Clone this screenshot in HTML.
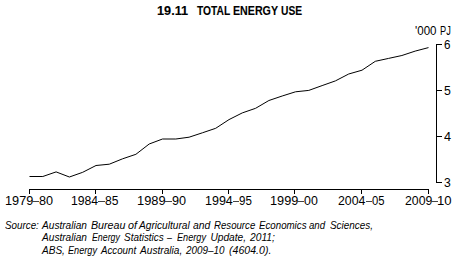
<!DOCTYPE html>
<html><head><meta charset="utf-8"><style>
html,body{margin:0;padding:0;background:#fff;width:467px;height:266px;overflow:hidden;position:relative;font-family:"Liberation Sans",sans-serif;color:#000}
.t{position:absolute;white-space:nowrap;line-height:1}
svg{position:absolute;left:0;top:0}
</style></head><body>
<svg width="467" height="266" viewBox="0 0 467 266">
<g stroke="#000" stroke-width="1" fill="none" shape-rendering="crispEdges">
<path d="M436.5 44v139M436 44.5h6M436 90.5h6M436 136.5h6M436 182.5h6"/>
<path d="M29.5 194v-4.5h399v4.5M95.5 190v4M162.5 190v4M228.5 190v4M294.5 190v4M361.5 190v4"/>
</g>
<polyline points="29.50,176.5 42.80,176.5 56.10,171.9 69.40,177 82.70,172.3 96.00,165.5 109.30,164.2 122.60,158.8 135.90,154.3 149.20,144 162.50,139 175.80,139 189.10,137.2 202.40,132.8 215.70,128.3 229.00,119.6 242.30,112.9 255.60,108.3 268.90,100.5 282.20,96 295.50,91.8 308.80,90.4 322.10,85.6 335.40,80.9 348.70,74 362.00,70.2 375.30,61.3 388.60,58.4 401.90,55.5 415.20,51.1 428.50,47.6" fill="none" stroke="#000" stroke-width="1" stroke-linejoin="round"/>
</svg>
<div class="t" style="left:156.60px;top:4.90px;font-weight:bold;font-size:12.6px;-webkit-text-stroke:0.1px #000;transform:scaleX(1.0097);transform-origin:0 0;">19.11</div>
<div class="t" style="left:196.80px;top:4.90px;font-weight:bold;font-size:12.6px;-webkit-text-stroke:0.1px #000;transform:scaleX(0.8122);transform-origin:0 0;">TOTAL</div>
<div class="t" style="left:232.65px;top:4.90px;font-weight:bold;font-size:12.6px;-webkit-text-stroke:0.1px #000;transform:scaleX(0.8462);transform-origin:0 0;">ENERGY</div>
<div class="t" style="left:280.70px;top:4.90px;font-weight:bold;font-size:12.6px;-webkit-text-stroke:0.1px #000;transform:scaleX(0.8154);transform-origin:0 0;">USE</div>
<div class="t" style="left:414.90px;top:24.90px;font-size:12px;transform:scaleX(0.9636);transform-origin:0 0;">'000</div>
<div class="t" style="left:440.03px;top:24.90px;font-size:12px;transform:scaleX(0.7692);transform-origin:0 0;">PJ</div>
<div class="t" style="left:443.80px;top:39.10px;font-size:12.5px;transform:scaleX(0.9286);transform-origin:0 0;">6</div>
<div class="t" style="left:443.50px;top:84.80px;font-size:12.5px;transform:scaleX(0.9857);transform-origin:0 0;">5</div>
<div class="t" style="left:443.50px;top:130.80px;font-size:12.5px;transform:scaleX(1.0143);transform-origin:0 0;">4</div>
<div class="t" style="left:443.50px;top:177.30px;font-size:12.5px;transform:scaleX(0.9714);transform-origin:0 0;">3</div>
<div class="t" style="left:4.74px;top:194.90px;font-size:12px;transform:scaleX(1.0600);transform-origin:0 0">1979</div>
<div class="t" style="left:38.60px;top:194.90px;font-size:12px;transform:scaleX(1.0538);transform-origin:0 0">80</div>
<div style="position:absolute;left:32.00px;top:201px;width:6.90px;height:1px;background:#444"></div>
<div class="t" style="left:71.18px;top:194.90px;font-size:12px;transform:scaleX(1.0154);transform-origin:0 0">1984</div>
<div class="t" style="left:104.90px;top:194.90px;font-size:12px;transform:scaleX(1.0077);transform-origin:0 0">85</div>
<div style="position:absolute;left:98.30px;top:201px;width:6.90px;height:1px;background:#444"></div>
<div class="t" style="left:137.13px;top:194.90px;font-size:12px;transform:scaleX(1.0720);transform-origin:0 0">1989</div>
<div class="t" style="left:171.60px;top:194.90px;font-size:12px;transform:scaleX(1.0538);transform-origin:0 0">90</div>
<div style="position:absolute;left:164.70px;top:201px;width:7.20px;height:1px;background:#444"></div>
<div class="t" style="left:204.66px;top:194.90px;font-size:12px;transform:scaleX(1.0423);transform-origin:0 0">1994</div>
<div class="t" style="left:239.10px;top:194.90px;font-size:12px;transform:scaleX(0.9615);transform-origin:0 0">95</div>
<div style="position:absolute;left:232.50px;top:201px;width:6.90px;height:1px;background:#444"></div>
<div class="t" style="left:270.04px;top:194.90px;font-size:12px;transform:scaleX(1.0600);transform-origin:0 0">1999</div>
<div class="t" style="left:303.90px;top:194.90px;font-size:12px;transform:scaleX(1.0308);transform-origin:0 0">00</div>
<div style="position:absolute;left:297.30px;top:201px;width:6.90px;height:1px;background:#444"></div>
<div class="t" style="left:338.10px;top:194.90px;font-size:12px;transform:scaleX(1.0259);transform-origin:0 0">2004</div>
<div class="t" style="left:372.10px;top:194.90px;font-size:12px;transform:scaleX(0.9385);transform-origin:0 0">05</div>
<div style="position:absolute;left:365.50px;top:201px;width:6.90px;height:1px;background:#444"></div>
<div class="t" style="left:405.00px;top:194.90px;font-size:12px;transform:scaleX(1.0231);transform-origin:0 0">2009</div>
<div class="t" style="left:436.81px;top:194.90px;font-size:12px;transform:scaleX(1.0917);transform-origin:0 0">10</div>
<div style="position:absolute;left:431.30px;top:201px;width:6.90px;height:1px;background:#444"></div>
<div class="t" style="left:4.90px;top:220.90px;font-size:10.2px;font-style:italic;transform:scaleX(0.9629);transform-origin:0 0">Source:</div>
<div class="t" style="left:41.90px;top:220.90px;font-size:10.2px;font-style:italic;transform:scaleX(0.9933);transform-origin:0 0">Australian</div>
<div class="t" style="left:91.00px;top:220.90px;font-size:10.2px;font-style:italic;transform:scaleX(1.0485);transform-origin:0 0">Bureau</div>
<div class="t" style="left:127.50px;top:220.90px;font-size:10.2px;font-style:italic;transform:scaleX(1.0556);transform-origin:0 0">of</div>
<div class="t" style="left:139.20px;top:220.90px;font-size:10.2px;font-style:italic;transform:scaleX(0.9961);transform-origin:0 0">Agricultural</div>
<div class="t" style="left:192.80px;top:220.90px;font-size:10.2px;font-style:italic;transform:scaleX(1.0176);transform-origin:0 0">and</div>
<div class="t" style="left:214.00px;top:220.90px;font-size:10.2px;font-style:italic;transform:scaleX(0.9465);transform-origin:0 0">Resource</div>
<div class="t" style="left:259.20px;top:220.90px;font-size:10.2px;font-style:italic;transform:scaleX(0.9531);transform-origin:0 0">Economics</div>
<div class="t" style="left:308.90px;top:220.90px;font-size:10.2px;font-style:italic;transform:scaleX(0.9471);transform-origin:0 0">and</div>
<div class="t" style="left:329.50px;top:220.90px;font-size:10.2px;font-style:italic;transform:scaleX(0.9721);transform-origin:0 0">Sciences,</div>
<div class="t" style="left:41.90px;top:233.20px;font-size:10.2px;font-style:italic;transform:scaleX(0.9933);transform-origin:0 0">Australian</div>
<div class="t" style="left:92.10px;top:233.20px;font-size:10.2px;font-style:italic;transform:scaleX(0.8636);transform-origin:0 0">Energy</div>
<div class="t" style="left:124.40px;top:233.20px;font-size:10.2px;font-style:italic;transform:scaleX(0.9750);transform-origin:0 0">Statistics</div>
<div class="t" style="left:167.30px;top:233.20px;font-size:10.2px;font-style:italic;transform:scaleX(0.8667);transform-origin:0 0">–</div>
<div class="t" style="left:176.70px;top:233.20px;font-size:10.2px;font-style:italic;transform:scaleX(0.8970);transform-origin:0 0">Energy</div>
<div class="t" style="left:210.40px;top:233.20px;font-size:10.2px;font-style:italic;transform:scaleX(1.0000);transform-origin:0 0">Update,</div>
<div class="t" style="left:250.20px;top:233.20px;font-size:10.2px;font-style:italic;transform:scaleX(1.0040);transform-origin:0 0">2011;</div>
<div class="t" style="left:41.90px;top:245.80px;font-size:10.2px;font-style:italic;transform:scaleX(0.9864);transform-origin:0 0">ABS,</div>
<div class="t" style="left:67.60px;top:245.80px;font-size:10.2px;font-style:italic;transform:scaleX(0.8970);transform-origin:0 0">Energy</div>
<div class="t" style="left:101.30px;top:245.80px;font-size:10.2px;font-style:italic;transform:scaleX(0.9541);transform-origin:0 0">Account</div>
<div class="t" style="left:139.80px;top:245.80px;font-size:10.2px;font-style:italic;transform:scaleX(0.9951);transform-origin:0 0">Australia,</div>
<div class="t" style="left:185.70px;top:245.80px;font-size:10.2px;font-style:italic;transform:scaleX(0.9700);transform-origin:0 0">2009–10</div>
<div class="t" style="left:228.56px;top:245.80px;font-size:10.2px;font-style:italic;transform:scaleX(1.0385);transform-origin:0 0">(4604.0).</div>
</body></html>
